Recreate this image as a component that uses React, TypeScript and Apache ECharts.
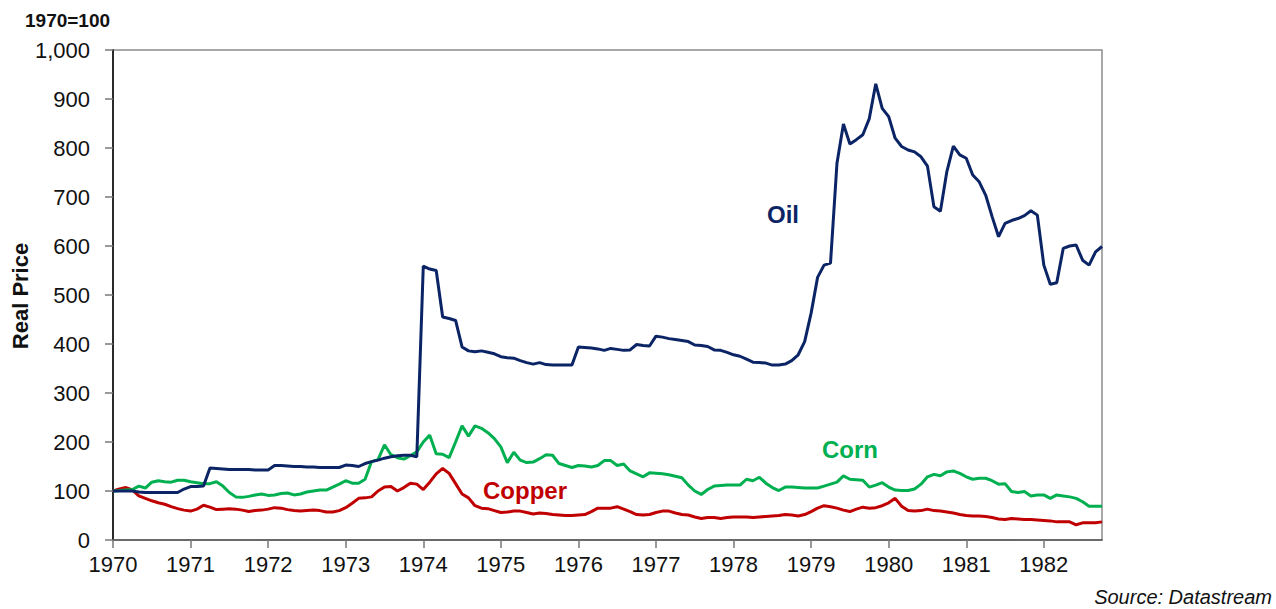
import React, { useEffect, useRef } from "react";
import * as echarts from "echarts";

// Monthly, Jan 1970 .. Oct 1982 (154 months), 1970 = 100
const startYear = 1970;
const monthCount = 154;

const oil = [
  100, 100, 100, 100, 98, 97, 97, 97, 97, 97, 97, 104, 109, 109, 110, 147, 146, 145, 144, 144,
  144, 144, 143, 143, 143, 152, 152, 151, 150, 150, 149, 149, 148, 148, 148, 148, 153, 152, 150, 156,
  160, 163, 167, 170, 172, 173, 173, 170, 559, 553, 550, 455, 452, 448, 394, 386, 384, 386, 383, 380,
  374, 372, 371, 366, 362, 359, 362, 358, 357, 357, 357, 357, 394, 393, 392, 390, 387, 391, 389, 387,
  388, 399, 397, 396, 416, 414, 411, 409, 407, 405, 398, 397, 395, 388, 387, 383, 378, 375, 369, 363,
  362, 361, 357, 357, 359, 366, 378, 405, 463, 536, 561, 565, 769, 849, 808, 817, 827, 860, 931, 881,
  864, 820, 803, 796, 792, 782, 763, 680, 671, 752, 804, 786, 779, 745, 731, 704, 660, 619, 646, 652,
  656, 662, 672, 663, 561, 522, 525, 595, 600, 602, 571, 561, 588, 599,
];

const corn = [
  100, 101, 102, 103, 110, 106, 118, 121, 119, 118, 122, 122, 119, 117, 115, 115, 119, 110, 97, 88,
  87, 89, 92, 94, 91, 92, 95, 96, 92, 94, 98, 100, 102, 102, 108, 114, 121, 116, 116, 124,
  160, 164, 194, 174, 168, 165, 172, 180, 200, 214, 176, 175, 168, 200, 233, 212, 233, 228, 219, 207,
  190, 158, 179, 163, 158, 159, 166, 174, 173, 156, 152, 148, 152, 151, 149, 152, 162, 162, 152, 155,
  141, 135, 129, 137, 136, 135, 133, 130, 127, 112, 100, 93, 103, 110, 111, 112, 112, 112, 124, 121,
  128, 116, 107, 101, 108, 108, 107, 106, 106, 106, 110, 114, 118, 131, 124, 123, 122, 108, 112, 117,
  108, 102, 101, 101, 104, 114, 129, 134, 131, 139, 141, 136, 129, 124, 126, 126, 121, 114, 115, 99,
  97, 99, 90, 92, 92, 85, 92, 90, 88, 85, 78, 69, 69, 69,
];

const copper = [
  100, 104, 107, 102, 90, 85, 80, 76, 73, 68, 64, 61, 59, 63, 71, 67, 62, 63, 64, 63,
  61, 58, 60, 61, 63, 66, 65, 62, 60, 59, 60, 61, 60, 57, 57, 60, 66, 75, 85, 86,
  88, 100, 108, 109, 100, 107, 116, 114, 103, 118, 135, 146, 136, 115, 94, 86, 70, 65, 64, 60,
  56, 57, 59, 59, 56, 53, 55, 54, 52, 51, 50, 50, 51, 52, 58, 65, 65, 65, 68, 63,
  58, 52, 51, 52, 56, 59, 59, 55, 52, 51, 47, 44, 46, 46, 44, 46, 47, 47, 47, 46,
  47, 48, 49, 50, 52, 51, 49, 52, 58, 65, 70, 68, 65, 61, 58, 63, 67, 65, 66, 70,
  76, 85, 69, 60, 59, 60, 63, 60, 59, 57, 55, 52, 50, 49, 49, 48, 46, 43, 42, 44,
  43, 42, 42, 41, 40, 39, 37, 37, 37, 31, 35, 35, 35, 37,
];

const months: string[] = Array.from({ length: monthCount }, (_, i) =>
  String(startYear + Math.floor(i / 12)) + "-" + String((i % 12) + 1).padStart(2, "0")
);

const seriesNames = ["Oil", "Corn", "Copper"];
const colors = ["#0b2465", "#00b050", "#c00000"];

const FONT = "'Liberation Sans', Arial, sans-serif";

export default function App() {
  const ref = useRef<HTMLDivElement>(null);

  useEffect(() => {
    if (!ref.current) return;
    const chart = echarts.init(ref.current, undefined, { renderer: "svg" });
    const datasets = [oil, corn, copper];
    chart.setOption({
      animation: false,
      backgroundColor: "#ffffff",
      textStyle: { fontFamily: FONT },
      grid: {
        left: 113,
        right: 174,
        top: 50,
        bottom: 69,
        show: true,
        borderColor: "#8c8c8c",
        borderWidth: 1.5,
      },
      xAxis: {
        type: "category",
        data: months,
        boundaryGap: false,
        axisLine: { show: true, lineStyle: { color: "#555555", width: 1.5 } },
        axisTick: {
          show: true,
          length: 8,
          interval: (idx: number) => idx % 12 === 0,
          lineStyle: { color: "#777777", width: 1.5 },
        },
        axisLabel: {
          interval: (idx: number) => idx % 12 === 0,
          formatter: (v: string) => v.slice(0, 4),
          color: "#111111",
          fontSize: 22,
          margin: 13,
          fontFamily: FONT,
        },
        splitLine: { show: false },
      },
      yAxis: {
        type: "value",
        min: 0,
        max: 1000,
        interval: 100,
        axisLine: { show: true, lineStyle: { color: "#000000", width: 1.5 } },
        axisTick: { show: true, length: 8, lineStyle: { color: "#777777", width: 1.5 } },
        axisLabel: {
          color: "#111111",
          fontSize: 22,
          margin: 23,
          fontFamily: FONT,
          formatter: (v: number) => v.toLocaleString("en-US"),
        },
        splitLine: { show: false },
      },
      series: datasets.map((d, k) => ({
        name: seriesNames[k],
        type: "line",
        data: d,
        showSymbol: false,
        symbol: "none",
        lineStyle: { color: colors[k], width: 3 },
        itemStyle: { color: colors[k] },
        z: 3 - k,
      })),
      graphic: [
        {
          type: "text",
          x: 25,
          y: 20,
          style: { text: "1970=100", fontSize: 19, fontWeight: "bold", fill: "#111", verticalAlign: "middle", fontFamily: FONT },
        },
        {
          type: "text",
          x: 20,
          y: 296,
          rotation: Math.PI / 2,
          style: {
            text: "Real Price",
            fontSize: 22,
            fontWeight: "bold",
            fill: "#111",
            align: "center",
            verticalAlign: "middle",
            fontFamily: FONT,
          },
        },
        {
          type: "text",
          x: 767,
          y: 214,
          style: { text: "Oil", fontSize: 24, fontWeight: "bold", fill: colors[0], verticalAlign: "middle", fontFamily: FONT },
        },
        {
          type: "text",
          x: 822,
          y: 449,
          style: { text: "Corn", fontSize: 24, fontWeight: "bold", fill: colors[1], verticalAlign: "middle", fontFamily: FONT },
        },
        {
          type: "text",
          x: 483,
          y: 490,
          style: { text: "Copper", fontSize: 24, fontWeight: "bold", fill: colors[2], verticalAlign: "middle", fontFamily: FONT },
        },
        {
          type: "text",
          x: 1272,
          y: 597,
          style: { text: "Source: Datastream", fontSize: 20, fontStyle: "italic", fill: "#111", align: "right", verticalAlign: "middle", fontFamily: FONT },
        },
      ],
    });
    return () => chart.dispose();
  }, []);

  return (
    <div
      ref={ref}
      style={{ position: "absolute", left: 0, top: 0, width: 1276, height: 609, background: "#fff" }}
    />
  );
}
